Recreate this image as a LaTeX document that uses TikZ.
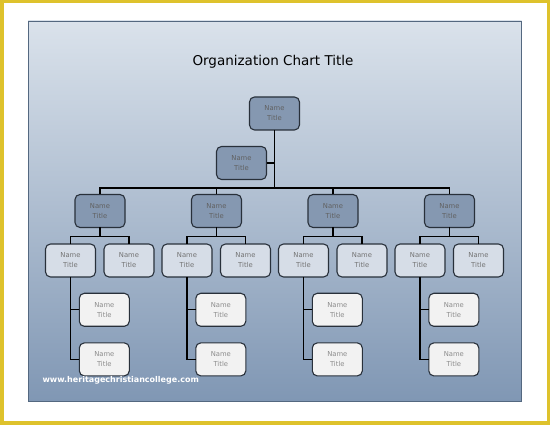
\documentclass[tikz,border=0pt]{standalone}
\usepackage{fontspec}
\setmainfont{DejaVu Sans}
\usetikzlibrary{positioning}
\definecolor{frameyellow}{RGB}{222,194,44}
\definecolor{slidetop}{RGB}{218,226,235}
\definecolor{slidemid}{RGB}{192,203,216}
\definecolor{slidebot}{RGB}{128,151,180}
\definecolor{slideedge}{RGB}{84,104,128}
\definecolor{headblue}{RGB}{133,152,177}
\definecolor{staffblue}{RGB}{214,221,231}
\definecolor{subgray}{RGB}{242,242,242}
\definecolor{boxedge}{RGB}{40,48,58}

\begin{document}
\begin{tikzpicture}[x=1pt,y=-1pt,
   box/.style={draw=boxedge,line width=1.1pt,rounded corners=5pt,minimum width=50pt,
               minimum height=33pt,inner sep=0pt,outer sep=0pt,align=center,
               font=\fontsize{6.8}{10}\selectfont},
   head/.style={box,fill=headblue,text=black!62},
   staff/.style={box,fill=staffblue,text=black!55},
   sub/.style={box,fill=subgray,text=black!45},
   link/.style={line width=1.3pt,black}]
  \useasboundingbox (0,0) rectangle (550,425);
  \fill[white] (0,0) rectangle (550,425);
  \draw[frameyellow,line width=3.5pt] (1.75,1.75) rectangle (548.25,423.25);
  \shade[top color=slidetop,middle color=slidemid,bottom color=slidebot]
        (28,21) rectangle (521.5,401);
  \draw[slideedge,line width=0.8pt] (28,21) rectangle (521.5,401);
  \node[font=\fontsize{13.5}{16}\selectfont] (title) at (273,62) {Organization Chart Title};
  % top of the chart
  \node[head] (ceo) at (274.5,113.5) {Name\\Title};
  \node[head] (asst) at (241.5,163) {Name\\Title};
  \coordinate (bar) at (274.5,188);
  \draw[link] (ceo.south) -- (bar);
  \draw[link] (asst.east) -- (asst.east -| ceo.south);
  % managers
  \node[head] (m1) at (100,211) {Name\\Title};
  \node[head,right=66.5pt of m1] (m2) {Name\\Title};
  \node[head,right=66.5pt of m2] (m3) {Name\\Title};
  \node[head,right=66.5pt of m3] (m4) {Name\\Title};
  \draw[link] (m1.north) |- (bar) -| (m4.north);
  \draw[link] (m2.north) -- (m2.north |- bar);
  \draw[link] (m3.north) -- (m3.north |- bar);
  % staff
  \node[staff,below=16.5pt of m1,xshift=-29.5pt] (s1a) {Name\\Title};
  \node[staff,right=8.5pt of s1a] (s1b) {Name\\Title};
  \node[staff,below=16.5pt of m2,xshift=-29.5pt] (s2a) {Name\\Title};
  \node[staff,right=8.5pt of s2a] (s2b) {Name\\Title};
  \node[staff,below=16.5pt of m3,xshift=-29.5pt] (s3a) {Name\\Title};
  \node[staff,right=8.5pt of s3a] (s3b) {Name\\Title};
  \node[staff,below=16.5pt of m4,xshift=-29.5pt] (s4a) {Name\\Title};
  \node[staff,right=8.5pt of s4a] (s4b) {Name\\Title};
  \draw[link] (m1.south) -- ++(0,9) coordinate (j1);
  \draw[link] (s1a.north) |- (j1) -| (s1b.north);
  \draw[link] (m2.south) -- ++(0,9) coordinate (j2);
  \draw[link] (s2a.north) |- (j2) -| (s2b.north);
  \draw[link] (m3.south) -- ++(0,9) coordinate (j3);
  \draw[link] (s3a.north) |- (j3) -| (s3b.north);
  \draw[link] (m4.south) -- ++(0,9) coordinate (j4);
  \draw[link] (s4a.north) |- (j4) -| (s4b.north);
  % assistants below the left staff
  \node[sub,below=16.3pt of s1a,xshift=33.8pt] (c1a) {Name\\Title};
  \node[sub,below=16.6pt of c1a] (c1b) {Name\\Title};
  \node[sub,below=16.3pt of s2a,xshift=33.8pt] (c2a) {Name\\Title};
  \node[sub,below=16.6pt of c2a] (c2b) {Name\\Title};
  \node[sub,below=16.3pt of s3a,xshift=33.8pt] (c3a) {Name\\Title};
  \node[sub,below=16.6pt of c3a] (c3b) {Name\\Title};
  \node[sub,below=16.3pt of s4a,xshift=33.8pt] (c4a) {Name\\Title};
  \node[sub,below=16.6pt of c4a] (c4b) {Name\\Title};
  \draw[link] (s1a.south) |- (c1b.west);
  \draw[link] (c1a.west) -- (c1a.west -| s1a.south);
  \draw[link] (s2a.south) |- (c2b.west);
  \draw[link] (c2a.west) -- (c2a.west -| s2a.south);
  \draw[link] (s3a.south) |- (c3b.west);
  \draw[link] (c3a.west) -- (c3a.west -| s3a.south);
  \draw[link] (s4a.south) |- (c4b.west);
  \draw[link] (c4a.west) -- (c4a.west -| s4a.south);
  \node[font=\bfseries\fontsize{8}{9}\selectfont,text=white,anchor=west] (web)
       at (39,380) {www.heritagechristiancollege.com};
\end{tikzpicture}
\end{document}
